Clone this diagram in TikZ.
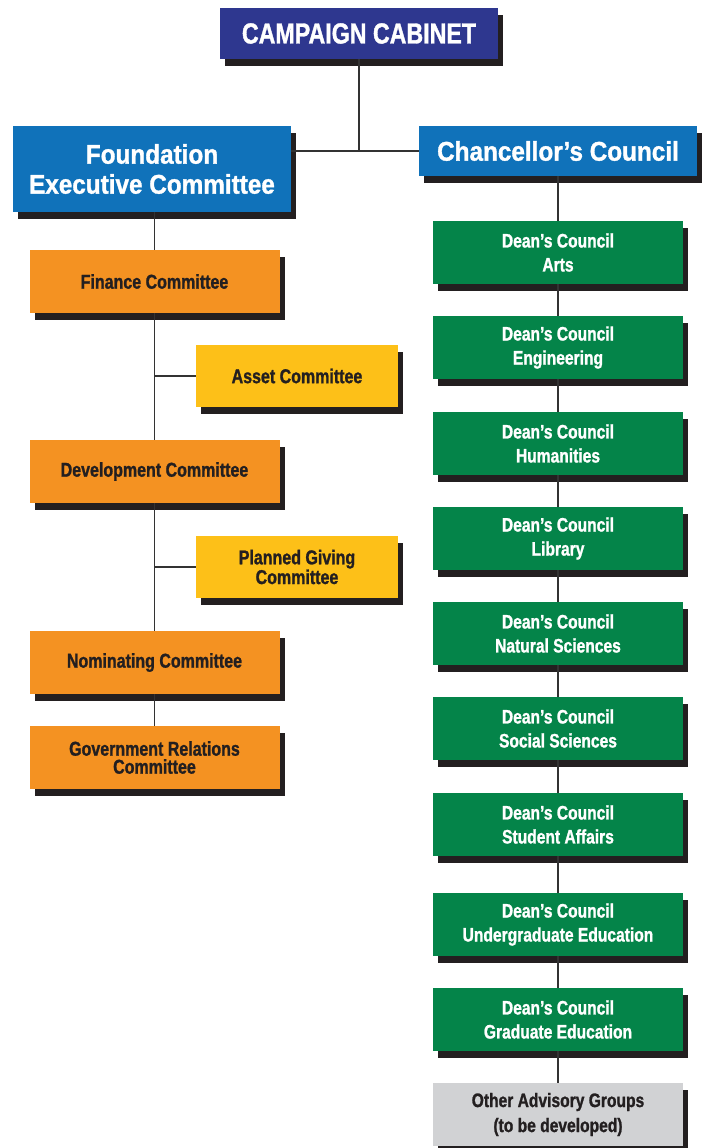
\documentclass[tikz,border=0pt]{standalone}
\usepackage{fontspec}
\setmainfont{Liberation Sans}[FakeStretch=0.8, BoldFeatures={FakeBold=1.2}]
\newfontfamily\titlefont{Liberation Sans}[FakeStretch=0.9, BoldFeatures={FakeBold=1.2}]
\usetikzlibrary{shadows}

\definecolor{CabinetBlue}{RGB}{46,55,143}
\definecolor{CouncilBlue}{RGB}{16,114,186}
\definecolor{CommitteeOrange}{RGB}{244,146,34}
\definecolor{SubYellow}{RGB}{253,192,24}
\definecolor{DeanGreen}{RGB}{4,132,73}
\definecolor{OtherGray}{RGB}{209,210,212}
\definecolor{ShadowBlack}{RGB}{35,31,32}
\definecolor{LinkGray}{RGB}{51,51,51}

\begin{document}
\begin{tikzpicture}[x=1pt, y=-1pt,
    box/.style={rectangle, inner sep=0pt, align=center,
        drop shadow={shadow xshift=5pt, shadow yshift=-7pt, fill=ShadowBlack, opacity=1}},
    cabinet/.style={box, fill=CabinetBlue, text=white, minimum width=278pt, minimum height=51pt,
        font=\fontsize{29}{32}\selectfont\bfseries},
    council/.style={box, fill=CouncilBlue, text=white, minimum width=278pt,
        font=\titlefont\fontsize{27}{30}\selectfont\bfseries},
    committee/.style={box, fill=CommitteeOrange, text=ShadowBlack, minimum width=250pt, minimum height=63pt,
        font=\fontsize{20}{18}\selectfont\bfseries},
    subcommittee/.style={committee, fill=SubYellow, minimum width=202pt, minimum height=62pt},
    dean/.style={box, fill=DeanGreen, text=white, minimum width=250pt, minimum height=63pt,
        font=\fontsize{19.5}{24}\selectfont\bfseries},
    other/.style={dean, fill=OtherGray, text=ShadowBlack, font=\fontsize{19.5}{25}\selectfont\bfseries},
    link/.style={line width=1.8pt, draw=LinkGray}]

    % Page size
    \useasboundingbox (0,0) rectangle (702,1148);

    % Top of the chart
    \node[cabinet] (Cabinet) at (359, 33.5) {CAMPAIGN CABINET};
    \node[council, minimum height=86pt] (Foundation) at (152, 169) {Foundation\\Executive Committee};
    \node[council, minimum height=50pt] (Chancellor) at (558, 151) {Chancellor’s Council};

    % Foundation committees
    \node[committee] (Finance) at (154.5, 281.5) {Finance Committee};
    \node[subcommittee] (Asset) at (297, 376) {Asset Committee};
    \node[committee] (Development) at (154.5, 471.5) {Development Committee};
    \node[subcommittee] (PlannedGiving) at (297, 567) {Planned Giving\\Committee};
    \node[committee] (Nominating) at (154.5, 662.5) {Nominating Committee};
    \node[committee] (Government) at (154.5, 757.5) {Government Relations\\Committee};

    % Dean's councils
    \foreach \i/\y/\field in {1/252.5/Arts, 2/347.5/Engineering, 3/443.5/Humanities,
            4/538.5/Library, 5/633.5/Natural Sciences, 6/728.5/Social Sciences,
            7/824.5/Student Affairs, 8/924.5/Undergraduate Education, 9/1019.5/Graduate Education} {
        \node[dean] (Dean\i) at (558, \y) {Dean’s Council\\\field};
    }
    \node[other] (Other) at (558, 1114.5) {Other Advisory Groups\\(to be developed)};

    % Connectors
    \draw[link] (Cabinet.south) -- (Cabinet.south |- Chancellor.west);
    \draw[link] (Foundation.east |- Chancellor.west) -- (Chancellor.west);
    \draw[link] (Finance.north |- Foundation.south) -- (Finance.north);
    \draw[link] (Finance.south) -- (Development.north);
    \draw[link] (Development.south) -- (Nominating.north);
    \draw[link] (Nominating.south) -- (Government.north);
    \draw[link] (Asset.west) -- (Asset.west -| Finance.south);
    \draw[link] (PlannedGiving.west) -- (PlannedGiving.west -| Development.south);

    \draw[link] (Chancellor.south) -- (Dean1.north);
    \foreach \a/\b in {1/2, 2/3, 3/4, 4/5, 5/6, 6/7, 7/8, 8/9} {
        \draw[link] (Dean\a.south) -- (Dean\b.north);
    }
    \draw[link] (Dean9.south) -- (Other.north);

\end{tikzpicture}
\end{document}
